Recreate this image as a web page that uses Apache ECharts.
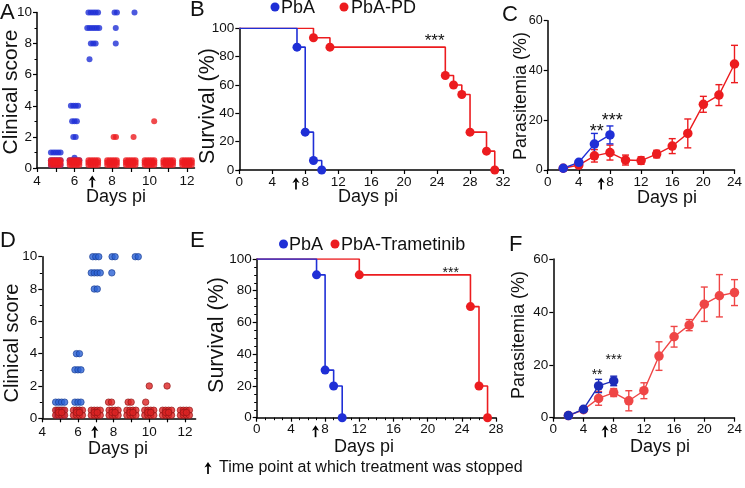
<!DOCTYPE html>
<html><head><meta charset="utf-8">
<script src="https://cdn.jsdelivr.net/npm/echarts@6/dist/echarts.min.js"></script>
<style>html,body{margin:0;padding:0;background:#fff}#c{width:745px;height:488px}</style>
</head><body><div id="c"></div>
<script>
// ================= DATA =================
// Panel A – clinical score, rows: [day, score, number of mice]
const aPbA = [[5,1,5],[5,0.5,5],[5,0,5],[6,4,4],[6,3,3],[6,2,2],[6,0.5,6],
  [7,10,5],[7,9,6],[7,8,3],[6.8,7,1],[8.2,10,2],[8.2,9,1],[8.2,8,1],[9.2,10,1]];
const aPbAPD = [[5,0.5,5],[5,0,10],[6,0.5,5],[6,0,10],[7,0.5,5],[7,0,10],[8,0.5,5],[8,0,10],
  [9,0.5,5],[9,0,10],[10,0.5,5],[10,0,10],[11,0.5,5],[11,0,10],[12,0.5,5],[12,0,10],
  [8.15,2,2],[9.15,2,1],[10.25,3,1]];
// Panel D – clinical score
const dPbA = [[5,1,4],[5,0.5,3],[5,0,3],[6,4,2],[6,3,3],[6,1,3],[6,0.5,2],
  [7,10,3],[7,9,4],[7,8,2],[8,10,2],[7.9,9,1],[9.3,10,2]];
const dPbATram = [[5,0.5,4],[5,0,6],[6,0.5,4],[6,0,6],[7,0.5,4],[7,0,6],[8,0.5,4],[8,0,6],
  [9,0.5,4],[9,0,6],[10,0.5,4],[10,0,6],[11,0.5,4],[11,0,6],[12,0.5,4],[12,0,6],
  [7.8,1,2],[8.9,1,2],[9.8,1,1],[10,2,1],[11,2,1]];
const swarmDayTicks = [4,5,6,7,8,9,10,11,12];
const swarmDayLabels = [4,6,8,10,12];

// Panel B – survival (%)
const bPbADays = [0,7,8,9,10];
const bPbASurv = [100,86.7,26.7,6.7,0];
const bPDDays = [0,9,11,25,26,27,28,30,31];
const bPDSurv = [100,93.3,86.7,66.7,60,53.3,26.7,13.3,0];
// Panel E – survival (%)
const ePbADays = [0,7,8,9,10];
const ePbASurv = [100,90,30,20,0];
const eTramDays = [0,12,25,26,27];
const eTramSurv = [100,90,70,20,0];

// Panel C – parasitemia (%), mean and error
const cPbADays = [2,4,6,8];
const cPbA = [0.7,3.1,10.4,14.1];
const cPbAErr = [0.3,0.5,4.3,3.6];
const cPDDays = [2,4,6,8,10,12,14,16,18,20,22,24];
const cPD = [0.7,2.0,5.7,7.0,4.0,3.8,6.4,9.6,14.7,26.4,30.1,42.6];
const cPDErr = [0.3,0.8,2.5,3.0,2.0,1.5,1.5,3.0,5.8,3.2,4.2,7.5];
// Panel F – parasitemia (%)
const fPbADays = [2,4,6,8];
const fPbA = [0.8,3.2,12.0,13.9];
const fPbAErr = [0.3,0.5,2.5,1.8];
const fTramDays = [2,4,6,8,10,12,14,16,18,20,22,24];
const fTram = [0.8,3.0,7.3,9.5,6.4,10.2,23.3,30.6,35.0,42.9,46.1,47.3];
const fTramErr = [0.3,0.5,2.6,1.5,3.8,3.0,5.4,3.9,2.1,6.5,8.0,4.9];

// annotations: [grid, day, value, text]
const stars = [[1,23.7,93.5,'***'],[2,6.3,17,'**'],[2,8.3,21.4,'***'],
  [4,22.7,93.1,'***'],[5,5.8,17.4,'**'],[5,8.0,22.8,'***']];
const stopDay = 7; // treatment stopped (arrow)

// ================= STYLE / LAYOUT =================
const FONT = "'Liberation Sans', Arial, Helvetica, sans-serif";
const BLUE = '#1f2fd6', RED = '#ec1c1f';
const DBLUE = '#2a62d4', DRED = '#dc2323';
const FBLUE = '#1c2bb8', FRED = '#ef4646';

const grids = [
  {left:37, top:12.5, width:157.5, height:155.5},
  {left:239.3, top:28.3, width:263.7, height:141.7},
  {left:547.7, top:20.7, width:191.5, height:149.3},
  {left:42.3, top:256.7, width:153.3, height:161.6},
  {left:256.7, top:259, width:239.4, height:158.7},
  {left:553.3, top:259, width:187.4, height:158.7}
];

function swarm(rows, o){
  const out=[];
  rows.forEach(([d,s,n])=>{
    const per = s < 1.5 ? o.perRow : n;
    for(let i=0;i<n;i++){
      const r=Math.floor(i/per), c=i%per;
      const inRow=Math.min(per, n-r*per);
      out.push({value:[d,s], symbolOffset:[(c-(inRow-1)/2)*o.sx, -r*o.sy-(s===0?o.lift:0)]});
    }
  });
  return out;
}
function surv(days, vals){
  return days.map((d,i)=>({value:[d,vals[i]], symbol: i===0?'none':'circle'}));
}
function pts(days, vals){ return days.map((d,i)=>[d,vals[i]]); }
function errs(days, vals, e){ return days.map((d,i)=>[d, Math.max(0,vals[i]-e[i]), vals[i]+e[i]]); }

function errRender(params, api){
  const x=api.value(0), lo=api.value(1), hi=api.value(2);
  const p1=api.coord([x,hi]), p2=api.coord([x,lo]);
  const w=3.5;
  const style={stroke:api.visual('color'), lineWidth:1.4};
  return {type:'group', children:[
    {type:'line', shape:{x1:p1[0],y1:p1[1],x2:p2[0],y2:p2[1]}, style},
    {type:'line', shape:{x1:p1[0]-w,y1:p1[1],x2:p1[0]+w,y2:p1[1]}, style},
    {type:'line', shape:{x1:p2[0]-w,y1:p2[1],x2:p2[0]+w,y2:p2[1]}, style}
  ]};
}

const axLine = {lineStyle:{color:'#000', width:1.5}};
const tick = {length:4, lineStyle:{color:'#000', width:1.2}};
function xAx(gi, min, max, interval, margin, extra){
  return Object.assign({type:'value', gridIndex:gi, min, max, interval,
    axisLine:axLine, axisTick:Object.assign({},tick),
    axisLabel:{color:'#111', fontSize:13.5, fontFamily:FONT, margin},
    splitLine:{show:false}}, extra||{});
}
function yAx(gi, min, max, interval, fs, extra){
  return Object.assign({type:'value', gridIndex:gi, min, max, interval,
    axisLine:Object.assign({show:true},axLine), axisTick:Object.assign({show:true},tick),
    axisLabel:{color:'#111', fontSize:fs, fontFamily:FONT, margin:5},
    splitLine:{show:false}}, extra||{});
}
const swarmX = (gi, max, margin) => xAx(gi, 4, max, 2, margin, {
  axisLabel:{color:'#111', fontSize:13.5, fontFamily:FONT, margin, customValues:swarmDayLabels},
  axisTick:Object.assign({customValues:swarmDayTicks}, tick)});
const minor = (n) => ({minorTick:{show:true, splitNumber:n, length:2.5, lineStyle:{color:'#000',width:1}}});

const option = {
  animation:false,
  backgroundColor:'#fff',
  grid: grids,
  xAxis: [
    swarmX(0, 12.4, 6.5),
    xAx(1, 0, 32, 4, 5),
    xAx(2, 0, 24, 4, 5),
    swarmX(3, 12.6, 7),
    xAx(4, 0, 28, 4, 5, minor(4)),
    xAx(5, 0, 24, 4, 4.5)
  ],
  yAxis: [
    yAx(0, 0, 10, 2, 13.5, minor(2)),
    yAx(1, 0, 100, 20, 13.5),
    yAx(2, 0, 60, 20, 12.5),
    yAx(3, 0, 10, 2, 13.5, minor(2)),
    yAx(4, 0, 100, 20, 13.5, minor(4)),
    yAx(5, 0, 60, 20, 13.5)
  ],
  series: [
    // A
    {name:'PbA', type:'scatter', xAxisIndex:0, yAxisIndex:0, symbolSize:6, itemStyle:{color:BLUE},
      data: swarm(aPbA, {perRow:5, sx:2.4, sy:2.6, lift:3})},
    {name:'PbA-PD', type:'scatter', xAxisIndex:0, yAxisIndex:0, symbolSize:6, itemStyle:{color:RED},
      data: swarm(aPbAPD, {perRow:5, sx:2.4, sy:2.6, lift:3})},
    // B
    {name:'PbA-PD', type:'line', step:'end', xAxisIndex:1, yAxisIndex:1, symbolSize:9, showAllSymbol:true,
      lineStyle:{color:RED, width:1.6}, itemStyle:{color:RED}, data: surv(bPDDays, bPDSurv)},
    {name:'PbA', type:'line', step:'end', xAxisIndex:1, yAxisIndex:1, symbolSize:9, showAllSymbol:true,
      lineStyle:{color:BLUE, width:1.6}, itemStyle:{color:BLUE}, data: surv(bPbADays, bPbASurv)},
    // C
    {name:'PbA-PD SEM', type:'custom', xAxisIndex:2, yAxisIndex:2, renderItem:errRender, itemStyle:{color:RED},
      encode:{x:0, y:[1,2]}, data: errs(cPDDays, cPD, cPDErr)},
    {name:'PbA-PD', type:'line', xAxisIndex:2, yAxisIndex:2, symbol:'circle', symbolSize:9.5,
      lineStyle:{color:RED, width:1.4}, itemStyle:{color:RED}, data: pts(cPDDays, cPD)},
    {name:'PbA SEM', type:'custom', xAxisIndex:2, yAxisIndex:2, renderItem:errRender, itemStyle:{color:BLUE},
      encode:{x:0, y:[1,2]}, data: errs(cPbADays, cPbA, cPbAErr)},
    {name:'PbA', type:'line', xAxisIndex:2, yAxisIndex:2, symbol:'circle', symbolSize:9.5,
      lineStyle:{color:BLUE, width:1.4}, itemStyle:{color:BLUE}, data: pts(cPbADays, cPbA)},
    // D
    {name:'PbA', type:'scatter', xAxisIndex:3, yAxisIndex:3, symbolSize:6.5,
      itemStyle:{color:DBLUE, borderColor:'#163a8f', borderWidth:0.8},
      data: swarm(dPbA, {perRow:4, sx:3, sy:2.8, lift:3})},
    {name:'PbA-Trametinib', type:'scatter', xAxisIndex:3, yAxisIndex:3, symbolSize:6.5,
      itemStyle:{color:DRED, borderColor:'#8d1414', borderWidth:0.8},
      data: swarm(dPbATram, {perRow:4, sx:3, sy:2.8, lift:3})},
    // E
    {name:'PbA-Trametinib', type:'line', step:'end', xAxisIndex:4, yAxisIndex:4, symbolSize:9, showAllSymbol:true,
      lineStyle:{color:RED, width:1.6}, itemStyle:{color:RED}, data: surv(eTramDays, eTramSurv)},
    {name:'PbA', type:'line', step:'end', xAxisIndex:4, yAxisIndex:4, symbolSize:9, showAllSymbol:true,
      lineStyle:{color:BLUE, width:1.6}, itemStyle:{color:BLUE}, data: surv(ePbADays, ePbASurv)},
    // F
    {name:'PbA-Trametinib SEM', type:'custom', xAxisIndex:5, yAxisIndex:5, renderItem:errRender, itemStyle:{color:FRED},
      encode:{x:0, y:[1,2]}, data: errs(fTramDays, fTram, fTramErr)},
    {name:'PbA-Trametinib', type:'line', xAxisIndex:5, yAxisIndex:5, symbol:'circle', symbolSize:9.5,
      lineStyle:{color:FRED, width:1.4}, itemStyle:{color:FRED}, data: pts(fTramDays, fTram)},
    {name:'PbA SEM', type:'custom', xAxisIndex:5, yAxisIndex:5, renderItem:errRender, itemStyle:{color:FBLUE},
      encode:{x:0, y:[1,2]}, data: errs(fPbADays, fPbA, fPbAErr)},
    {name:'PbA', type:'line', xAxisIndex:5, yAxisIndex:5, symbol:'circle', symbolSize:9.5,
      lineStyle:{color:FBLUE, width:1.4}, itemStyle:{color:FBLUE}, data: pts(fPbADays, fPbA)}
  ]
};
const chart = echarts.init(document.getElementById('c'));
chart.setOption(option);

// ---------- text elements ----------
function txt(x, y, text, fs, opts){
  opts = opts || {};
  return {type:'text', x, y, rotation: opts.rot||0, z:100,
    style:{text, fontSize:fs, fontFamily:FONT, fontWeight:opts.weight||'normal', fill:'#111',
      align:opts.align||'center', verticalAlign:'middle'}};
}
function arrow(x, y){
  return {type:'group', x, y, z:100, children:[
    {type:'line', shape:{x1:0,y1:-2,x2:0,y2:6}, style:{stroke:'#000', lineWidth:1.7}},
    {type:'polygon', shape:{points:[[-3.6,-0.5],[0,-6],[3.6,-0.5],[0,-2]]}, style:{fill:'#000'}}
  ]};
}
const R90 = Math.PI/2;
const g = [
  txt(0,13,'A',22,{align:'left'}), txt(190,10,'B',22,{align:'left'}), txt(502,15,'C',22,{align:'left'}),
  txt(0,241,'D',22,{align:'left'}), txt(190,241,'E',22,{align:'left'}), txt(509,245,'F',22,{align:'left'}),
  txt(11,92,'Clinical score',21,{rot:R90}), txt(208,106,'Survival (%)',21.5,{rot:R90}),
  txt(521,96,'Parasitemia (%)',18,{rot:R90}), txt(12.5,343,'Clinical score',20,{rot:R90}),
  txt(217,335,'Survival (%)',21.5,{rot:R90}), txt(519.5,335,'Parasitemia (%)',18,{rot:R90}),
  txt(116,197,'Days pi',18), txt(368,197,'Days pi',18), txt(667,198,'Days pi',18),
  txt(118,449,'Days pi',18), txt(364,447,'Days pi',18), txt(660,447,'Days pi',18),
  // legends
  {type:'circle', shape:{cx:275,cy:7,r:4.5}, style:{fill:BLUE}},
  txt(281,8,'PbA',18,{align:'left'}),
  {type:'circle', shape:{cx:344,cy:7,r:4.5}, style:{fill:RED}},
  txt(351,8,'PbA-PD',18,{align:'left'}),
  {type:'circle', shape:{cx:283.5,cy:244,r:4.5}, style:{fill:BLUE}},
  txt(289,245,'PbA',18,{align:'left'}),
  {type:'circle', shape:{cx:335,cy:244,r:4.5}, style:{fill:RED}},
  txt(341,245,'PbA-Trametinib',18,{align:'left'}),
  // footnote
  arrow(208,468),
  txt(219,468,'Time point at which treatment was stopped',16,{align:'left'})
];
// arrows at treatment stop and significance stars, placed through the axes
for(let gi=0; gi<6; gi++){
  const p = chart.convertToPixel({gridIndex:gi}, [stopDay, 0]);
  g.push(arrow(p[0]-1, p[1]+13.5));
}
stars.forEach(([gi,x,y,t])=>{
  const fs = gi===1 ? 17 : (gi===2 ? 18 : 14);
  const p = chart.convertToPixel({gridIndex:gi}, [x, y]);
  g.push(txt(p[0], p[1]+0.22*fs, t, fs));
});
chart.setOption({graphic:g});
</script>
</body></html>
